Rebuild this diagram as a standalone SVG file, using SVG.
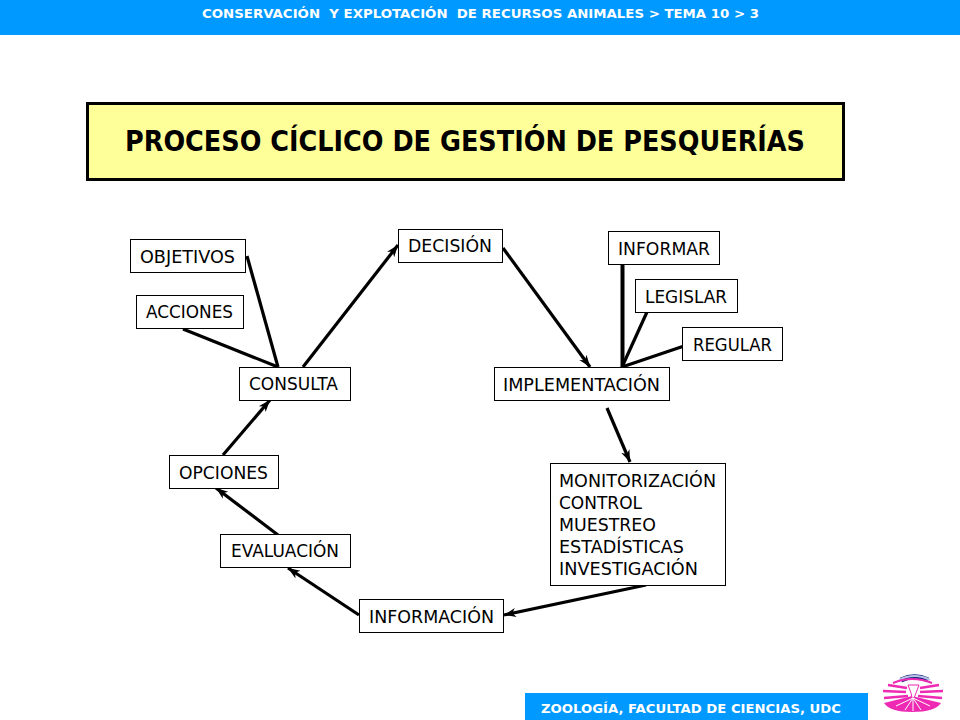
<svg xmlns="http://www.w3.org/2000/svg" width="960" height="720" viewBox="0 0 960 720">
<style>
.n{fill:#fff;stroke:#000;stroke-width:1}
.t{font-family:"DejaVu Sans","Liberation Sans",sans-serif;font-size:18px;fill:#000}
.b{font-family:"DejaVu Sans","Liberation Sans",sans-serif;font-weight:bold;font-size:12.500px;fill:#fff;white-space:pre}
.c{stroke:#000;stroke-width:3.200;fill:none}
.a{marker-end:url(#ah)}
.p{fill:#ee2ab4}
.r{stroke:#ee2ab4;stroke-width:2.500;fill:none}
</style>
<defs>
<marker id="ah" markerUnits="userSpaceOnUse" markerWidth="14" markerHeight="12" refX="12" refY="6" orient="auto">
<path d="M0 1.500 L12 6 L0 10.500 L3.500 6 Z" fill="#000"/>
</marker>
</defs>
<rect width="960" height="720" fill="#fff"/>
<g id="header"><rect x="0" y="0" width="960" height="35" fill="#0099ff"/>
<text class="b" x="202" y="18" textLength="557" lengthAdjust="spacingAndGlyphs">CONSERVACIÓN  Y EXPLOTACIÓN  DE RECURSOS ANIMALES &gt; TEMA 10 &gt; 3</text></g>
<g id="title"><rect x="87.500" y="103.500" width="756" height="76" fill="#ffff99" stroke="#000" stroke-width="3"/>
<text x="465" y="151" text-anchor="middle" font-family="'DejaVu Sans','Liberation Sans',sans-serif" font-weight="bold" font-size="28" textLength="680" lengthAdjust="spacingAndGlyphs">PROCESO CÍCLICO DE GESTIÓN DE PESQUERÍAS</text></g>
<g id="connectors">
<line class="c" x1="247" y1="256" x2="278" y2="367"/>
<line class="c" x1="183" y1="329" x2="278" y2="367"/>
<line class="c a" x1="303" y1="367" x2="398" y2="245"/>
<line class="c a" x1="503" y1="248" x2="590" y2="367"/>
<line class="c" style="stroke-width:4" x1="622.500" y1="265" x2="622.500" y2="367"/>
<line class="c" x1="647" y1="312" x2="622" y2="367"/>
<line class="c" x1="687" y1="345" x2="622" y2="367"/>
<line class="c a" x1="607" y1="408" x2="630" y2="462"/>
<line class="c a" x1="646" y1="585" x2="504" y2="615"/>
<line class="c a" x1="359" y1="615" x2="288" y2="568"/>
<line class="c a" x1="278" y1="535" x2="216" y2="488"/>
<line class="c a" x1="223" y1="455" x2="270" y2="400"/>
</g>
<g id="objetivos"><rect class="n" x="130.500" y="239.500" width="115" height="33"/><text class="t" x="140" y="263" textLength="95" lengthAdjust="spacingAndGlyphs">OBJETIVOS</text></g>
<g id="acciones"><rect class="n" x="136.500" y="295.500" width="107" height="33"/><text class="t" x="146" y="318" textLength="87" lengthAdjust="spacingAndGlyphs">ACCIONES</text></g>
<g id="consulta"><rect class="n" x="239.500" y="367.500" width="111" height="33"/><text class="t" x="249" y="390" textLength="89" lengthAdjust="spacingAndGlyphs">CONSULTA</text></g>
<g id="decision"><rect class="n" x="398.500" y="229.500" width="104" height="33"/><text class="t" x="408" y="252" textLength="84" lengthAdjust="spacingAndGlyphs">DECISIÓN</text></g>
<g id="informar"><rect class="n" x="608.500" y="231.500" width="111" height="33"/><text class="t" x="618" y="255" textLength="92" lengthAdjust="spacingAndGlyphs">INFORMAR</text></g>
<g id="legislar"><rect class="n" x="635.500" y="279.500" width="102" height="33"/><text class="t" x="645" y="303" textLength="82" lengthAdjust="spacingAndGlyphs">LEGISLAR</text></g>
<g id="regular"><rect class="n" x="682.500" y="327.500" width="100" height="33"/><text class="t" x="693" y="351" textLength="79" lengthAdjust="spacingAndGlyphs">REGULAR</text></g>
<g id="implementacion"><rect class="n" x="494.500" y="367.500" width="175" height="33"/><text class="t" x="503" y="391" textLength="157" lengthAdjust="spacingAndGlyphs">IMPLEMENTACIÓN</text></g>
<g id="monitorizacion"><rect class="n" x="550.500" y="463.500" width="175" height="122"/>
<text class="t" x="559" y="487" textLength="157" lengthAdjust="spacingAndGlyphs">MONITORIZACIÓN</text>
<text class="t" x="559" y="509" textLength="83" lengthAdjust="spacingAndGlyphs">CONTROL</text>
<text class="t" x="559" y="531" textLength="97" lengthAdjust="spacingAndGlyphs">MUESTREO</text>
<text class="t" x="559" y="553" textLength="125" lengthAdjust="spacingAndGlyphs">ESTADÍSTICAS</text>
<text class="t" x="559" y="575" textLength="139" lengthAdjust="spacingAndGlyphs">INVESTIGACIÓN</text></g>
<g id="opciones"><rect class="n" x="169.500" y="455.500" width="109" height="33"/><text class="t" x="179" y="479" textLength="89" lengthAdjust="spacingAndGlyphs">OPCIONES</text></g>
<g id="evaluacion"><rect class="n" x="220.500" y="534.500" width="130" height="33"/><text class="t" x="231" y="557" textLength="108" lengthAdjust="spacingAndGlyphs">EVALUACIÓN</text></g>
<g id="informacion"><rect class="n" x="359.500" y="599.500" width="144" height="33"/><text class="t" x="369" y="623" textLength="125" lengthAdjust="spacingAndGlyphs">INFORMACIÓN</text></g>
<g id="footer"><rect x="525" y="693" width="343" height="27" fill="#0099ff"/>
<text class="b" x="541" y="713" textLength="300" lengthAdjust="spacingAndGlyphs">ZOOLOGÍA, FACULTAD DE CIENCIAS, UDC</text></g>
<g id="logo">
<path d="M901 680 A28 24 0 0 1 928 680" stroke="#1a237e" stroke-width="5" fill="none"/>
<path d="M899 680 A28 24 0 0 1 930 680" stroke="#b8c4e8" stroke-width="2" fill="none"/>
<path d="M893 683 Q912 675 932 683" stroke="#ee2ab4" stroke-width="2" fill="none"/>
<path class="p" d="M884 703 L912 696 L941 703 Q935 712 912 712 Q890 712 884 703Z"/>
<path d="M908 685 L919 685 L916 693 L914 698 L912 698 L911 693Z" fill="#fff" stroke="#ee2ab4" stroke-width="1"/>
<path class="r" d="M907 688 L888 685M906 692 L883 691M908 696 L884 698"/>
<path class="r" d="M920 688 L939 685M920 692 L943 691M918 696 L942 698"/>
<path d="M913 698 L896 706M913 698 L905 710M913 698 L913 711M913 698 L921 710M913 698 L930 706" stroke="#fff" stroke-width="1" fill="none"/>
</g>
</svg>
